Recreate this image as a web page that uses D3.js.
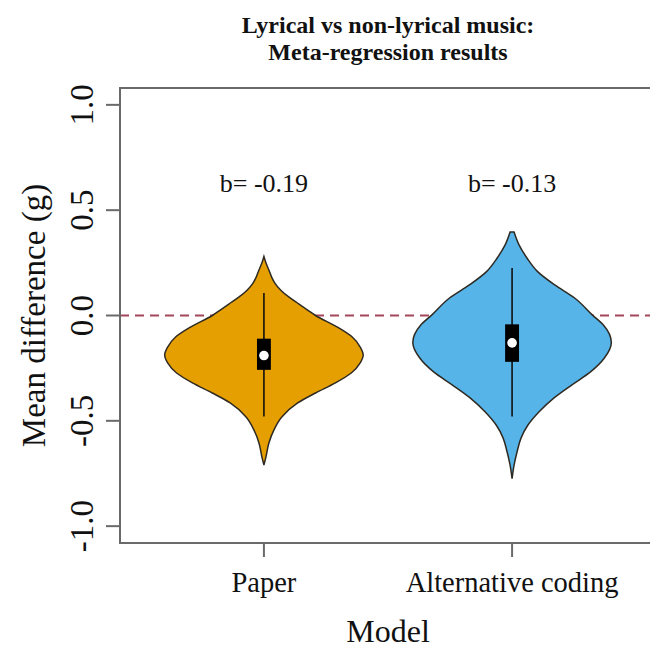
<!DOCTYPE html>
<html>
<head>
<meta charset="utf-8">
<script src="https://cdn.jsdelivr.net/npm/d3@7"></script>
<style>
  html, body { margin: 0; padding: 0; background: #fff; }
  svg { display: block; }
  text { font-family: "Liberation Serif", "Times New Roman", serif; fill: #111; }
</style>
</head>
<body>
<svg id="chart" width="650" height="648"></svg>
<script>
// Models compared, their colours and summary statistics (mean difference, g)
const models = ["Paper", "Alternative coding"];
const colors = ["#E69F00", "#56B4E9"];
const medians = [-0.19, -0.13];
const q1 = [-0.258, -0.220];
const q3 = [-0.110, -0.042];
const whiskerLo = [-0.480, -0.480];
const whiskerHi = [0.107, 0.225];

// Density profiles (relative density at each value of g)
const paperGrid = [0.280, 0.250, 0.216, 0.180, 0.154, 0.120, 0.088, 0.055, 0.026, 0.000, -0.055, -0.102, -0.150, -0.188, -0.225, -0.273, -0.320, -0.368, -0.415, -0.482, -0.544, -0.605, -0.672, -0.710];
const paperDensity = [0.0, 0.02, 0.05, 0.08, 0.11, 0.17, 0.25, 0.35, 0.44, 0.52, 0.74, 0.89, 0.97, 1.0, 0.97, 0.88, 0.72, 0.52, 0.34, 0.18, 0.10, 0.05, 0.02, 0.0];
const altGrid = [0.396, 0.335, 0.273, 0.207, 0.145, 0.083, 0.002, -0.045, -0.128, -0.202, -0.268, -0.330, -0.392, -0.458, -0.520, -0.582, -0.648, -0.710, -0.775];
const altDensity = [0.02, 0.07, 0.15, 0.26, 0.43, 0.63, 0.81, 0.92, 1.0, 0.93, 0.79, 0.60, 0.42, 0.27, 0.16, 0.09, 0.05, 0.02, 0.0];

const yTicks = [-1.0, -0.5, 0.0, 0.5, 1.0];
const titleLines = ["Lyrical vs non-lyrical music:", "Meta-regression results"];
const xTitle = "Model";
const yTitle = "Mean difference (g)";
const serif = "'Liberation Serif', 'Times New Roman', serif";

const profiles = [
  paperGrid.map((g, i) => ({ g, d: paperDensity[i] })),
  altGrid.map((g, i) => ({ g, d: altDensity[i] }))
];

const svg = d3.select("#chart");

// Plot region: positions 1..2 with 4% padding on each axis
const x = d3.scaleLinear().domain([0.42, 2.58]).range([120, 656]);
const y = d3.scaleLinear().domain([-1.08, 1.08]).range([543, 88]);
const halfWidth = d3.scaleLinear().domain([0, 1]).range([0, 0.4]);

// Reference line at zero
svg.append("line")
  .attr("x1", x(0.42)).attr("x2", x(2.58))
  .attr("y1", y(0)).attr("y2", y(0))
  .attr("stroke", "#a3475a").attr("stroke-width", 2)
  .attr("stroke-dasharray", "9,6");

// Violins
models.forEach((m, i) => {
  const pos = i + 1;
  const area = d3.area()
    .y(d => y(d.g))
    .x0(d => x(pos - halfWidth(d.d)))
    .x1(d => x(pos + halfWidth(d.d)))
    .curve(d3.curveMonotoneY);
  svg.append("path")
    .datum(profiles[i])
    .attr("d", area)
    .attr("fill", colors[i])
    .attr("stroke", "#2e2a22")
    .attr("stroke-width", 1.5);

  // Whisker
  svg.append("line")
    .attr("x1", x(pos)).attr("x2", x(pos))
    .attr("y1", y(whiskerHi[i])).attr("y2", y(whiskerLo[i]))
    .attr("stroke", "#111").attr("stroke-width", 1.6);

  // Interquartile box
  const bw = 0.028;
  svg.append("rect")
    .attr("x", x(pos - bw)).attr("width", x(pos + bw) - x(pos - bw))
    .attr("y", y(q3[i])).attr("height", y(q1[i]) - y(q3[i]))
    .attr("fill", "#000");

  // Median
  svg.append("circle")
    .attr("cx", x(pos)).attr("cy", y(medians[i]))
    .attr("r", 4.8).attr("fill", "#fff");

  // Coefficient label
  svg.append("text")
    .attr("x", x(pos)).attr("y", 192)
    .attr("text-anchor", "middle")
    .attr("font-family", serif)
    .style("font-size", "26px")
    .text("b= " + medians[i].toFixed(2));
});

// Plot frame
svg.append("rect")
  .attr("x", x(0.42)).attr("y", y(1.08))
  .attr("width", x(2.58) - x(0.42)).attr("height", y(-1.08) - y(1.08))
  .attr("fill", "none").attr("stroke", "#6a6a6a").attr("stroke-width", 2);

// Y axis
const yAxis = svg.append("g").attr("transform", `translate(${x(0.42)},0)`);
yAxis.selectAll("line.tick").data(yTicks).join("line")
  .attr("class", "tick")
  .attr("x1", -14).attr("x2", 0)
  .attr("y1", d => y(d)).attr("y2", d => y(d))
  .attr("stroke", "#6a6a6a").attr("stroke-width", 2);
yAxis.selectAll("text").data(yTicks).join("text")
  .attr("transform", d => `translate(-27,${y(d)}) rotate(-90)`)
  .attr("text-anchor", "middle")
  .attr("font-family", serif)
  .style("font-size", "33px")
  .text(d => d3.format(".1f")(d).replace("−", "-"));

// X axis
const xAxis = svg.append("g").attr("transform", `translate(0,${y(-1.08)})`);
xAxis.selectAll("line").data(models).join("line")
  .attr("x1", (d, i) => x(i + 1)).attr("x2", (d, i) => x(i + 1))
  .attr("y1", 0).attr("y2", 14)
  .attr("stroke", "#6a6a6a").attr("stroke-width", 2);
xAxis.selectAll("text").data(models).join("text")
  .attr("x", (d, i) => x(i + 1)).attr("y", 49)
  .attr("text-anchor", "middle")
  .attr("font-family", serif)
  .style("font-size", "28.5px")
  .text(d => d);

// Axis titles
svg.append("text")
  .attr("x", 388).attr("y", 642)
  .attr("text-anchor", "middle")
  .attr("font-family", serif)
  .style("font-size", "32px")
  .text(xTitle);
svg.append("text")
  .attr("transform", `translate(45,${y(0)}) rotate(-90)`)
  .attr("text-anchor", "middle")
  .attr("font-family", serif)
  .style("font-size", "33px")
  .text(yTitle);

// Title
svg.append("g").selectAll("text").data(titleLines).join("text")
  .attr("x", 388).attr("y", (d, i) => 33 + i * 27)
  .attr("text-anchor", "middle")
  .attr("font-family", serif)
  .style("font-size", "24px")
  .style("font-weight", "bold")
  .text(d => d);
</script>
</body>
</html>
